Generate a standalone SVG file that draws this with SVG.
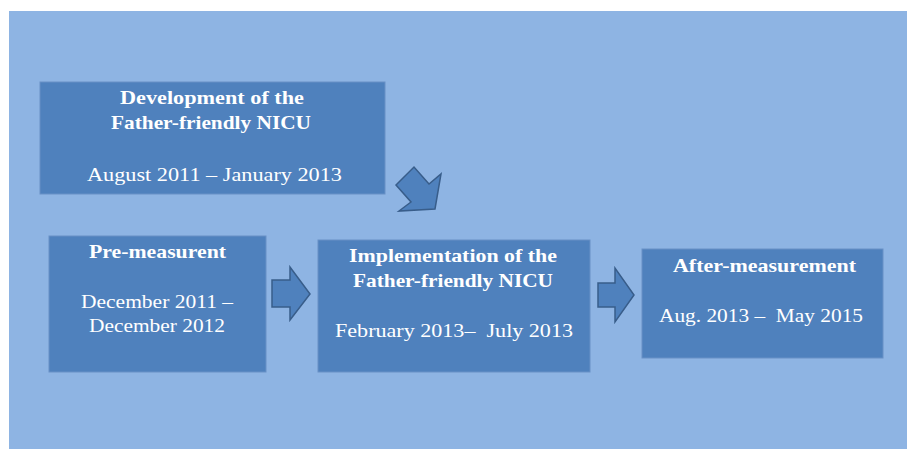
<svg xmlns="http://www.w3.org/2000/svg" width="916" height="450" viewBox="0 0 916 450">
<style>
.box{fill:#4f81bd;stroke:#6890c6;stroke-width:1}
.arr{fill:#4f81bd;stroke:#385d8a;stroke-width:1.5;stroke-linejoin:miter}
text{font-family:"Liberation Serif","Times New Roman",serif;font-size:19px;fill:#ffffff;white-space:pre}
.b{font-weight:bold}
</style>
<rect x="0" y="0" width="916" height="450" fill="#ffffff"/>
<rect x="9" y="11" width="898" height="438" fill="#8eb4e3"/>
<g id="dev">
<rect class="box" x="40" y="82" width="345" height="112"/>
<text class="b" x="120" y="104" textLength="184" lengthAdjust="spacingAndGlyphs">Development of the</text>
<text class="b" x="111" y="129" textLength="200" lengthAdjust="spacingAndGlyphs">Father-friendly NICU</text>
<text x="87" y="181" textLength="255" lengthAdjust="spacingAndGlyphs">August 2011 – January 2013</text>
</g>
<g id="pre">
<rect class="box" x="49" y="236" width="217" height="136"/>
<text class="b" x="89" y="258" textLength="137" lengthAdjust="spacingAndGlyphs">Pre-measurent</text>
<text x="81" y="308" textLength="152" lengthAdjust="spacingAndGlyphs">December 2011 –</text>
<text x="89" y="332" textLength="136" lengthAdjust="spacingAndGlyphs">December 2012</text>
</g>
<g id="impl">
<rect class="box" x="318" y="240" width="272" height="132"/>
<text class="b" x="349" y="262" textLength="208" lengthAdjust="spacingAndGlyphs">Implementation of the</text>
<text class="b" x="353" y="287" textLength="200" lengthAdjust="spacingAndGlyphs">Father-friendly NICU</text>
<text x="335" y="337" textLength="238" lengthAdjust="spacingAndGlyphs" xml:space="preserve">February 2013–  July 2013</text>
</g>
<g id="after">
<rect class="box" x="642" y="249" width="241" height="109"/>
<text class="b" x="673" y="272" textLength="183" lengthAdjust="spacingAndGlyphs">After-measurement</text>
<text x="659" y="322" textLength="204" lengthAdjust="spacingAndGlyphs" xml:space="preserve">Aug. 2013 –  May 2015</text>
</g>
<g id="connectors">
<polygon class="arr" points="396,185 414,167 429,184 441,174 435,209 399,211 411,202"/>
<polygon class="arr" points="272,280 290,280 290,267 310,294 290,320 290,307 272,307"/>
<polygon class="arr" points="598,283 615,283 615,268 634,295 615,322 615,307 598,307"/>
</g>
</svg>
